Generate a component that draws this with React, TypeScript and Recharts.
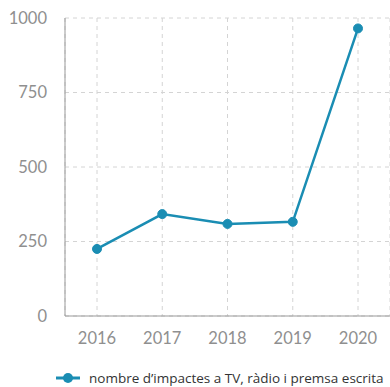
import * as React from 'react';
import { LineChart, Line, XAxis, YAxis, CartesianGrid, Legend } from 'recharts';

const years = ['2016', '2017', '2018', '2019', '2020'];
const impactes = [225, 342, 309, 316, 965];
const yTicks = [0, 250, 500, 750, 1000];
const seriesName = 'nombre d\u2019impactes a TV, ràdio i premsa escrita';

const data = years.map((year, i) => ({ year, impactes: impactes[i] }));

const lineColor = '#1a8db3';
const tickStyle = { fill: '#8f8f8f', fontSize: 16.5, fontFamily: 'Lato, sans-serif' };

// legend: line with a filled dot, like the original
const renderLegend = () => (
  <div style={{ height: 32, paddingTop: 14, boxSizing: 'border-box', paddingLeft: 56,
                display: 'flex', alignItems: 'center', fontFamily: '"Open Sans", sans-serif',
                fontSize: 13.5, color: '#333333', lineHeight: '18px', whiteSpace: 'nowrap' }}>
    <svg width={24} height={12} style={{ marginRight: 9 }}>
      <line x1={0} y1={6} x2={24} y2={6} stroke={lineColor} strokeWidth={3} />
      <circle cx={12} cy={6} r={5} fill={lineColor} />
    </svg>
    <span>{seriesName}</span>
  </div>
);

export default function App() {
  return (
    <div style={{ width: 390, height: 387 }}>
      <style>{`body { margin: 0; }`}</style>
      <LineChart width={390} height={387} data={data}
                 margin={{ top: 18, right: 0, left: 0, bottom: 0 }}>
        <CartesianGrid stroke="#d4d4d4" strokeDasharray="4 4" />
        <XAxis dataKey="year" stroke="#999999" tick={tickStyle} padding={{ left: 32, right: 32 }}
               tickLine={false} tickSize={0} tickMargin={16} height={39} />
        <YAxis domain={[0, 1000]} ticks={yTicks} stroke="#999999" tick={tickStyle}
               tickLine={false} tickSize={0} tickMargin={18} width={65} />
        <Legend verticalAlign="bottom" content={renderLegend} />
        <Line type="linear" dataKey="impactes" name={seriesName} stroke={lineColor} strokeWidth={2.5}
              dot={{ r: 4.5, fill: lineColor, stroke: lineColor, strokeWidth: 1 }}
              activeDot={false} isAnimationActive={false} />
      </LineChart>
    </div>
  );
}
